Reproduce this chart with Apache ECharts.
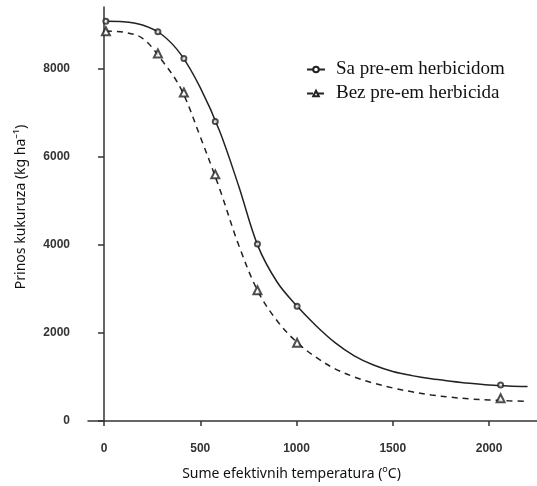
<!DOCTYPE html>
<html>
<head>
<meta charset="utf-8">
<script src="https://cdn.jsdelivr.net/npm/echarts@6/dist/echarts.min.js"></script>
<style>
html,body{margin:0;padding:0;background:#fff;}
#c{width:537px;height:486px;}
</style>
</head>
<body>
<div id="c"></div>
<script>
// Series names
var seriesNames = ['Sa pre-em herbicidom', 'Bez pre-em herbicida'];

// Observed points
var obsX = [10, 280, 415, 578, 797, 1003, 2060];
var obsWith = [9075, 8840, 8230, 6800, 4020, 2605, 820];
var obsWithout = [8850, 8345, 7460, 5600, 2970, 1775, 515];

// Fitted curves, values at these x positions
var curveX = [10, 100, 200, 300, 400, 500, 600, 700, 800, 900, 1000, 1100, 1200, 1300, 1400, 1500, 1600, 1700, 1800, 1900, 2000, 2100, 2200];
var curveWithY = [9075, 9065, 8990, 8775, 8320, 7570, 6590, 5330, 3970, 3150, 2620, 2170, 1780, 1480, 1270, 1125, 1030, 958, 905, 858, 820, 797, 785];
var curveWithoutY = [8853, 8830, 8690, 8195, 7540, 6455, 5280, 3990, 2940, 2270, 1795, 1450, 1185, 1000, 860, 750, 662, 590, 540, 502, 478, 460, 445];

// Tick values
var xTicks = [0, 500, 1000, 1500, 2000];
var yTicks = [0, 2000, 4000, 6000, 8000];

function pairs(xs, ys) { return xs.map(function (x, i) { return [x, ys[i]]; }); }

var ink = '#222';
var axisColor = '#333';
var labelStyle = { color: '#333', fontFamily: 'Liberation Sans, Arial', fontSize: 12, fontWeight: 'bold' };

var chart = echarts.init(document.getElementById('c'), null, { renderer: 'canvas' });
chart.setOption({
  animation: false,
  backgroundColor: '#fff',
  grid: { left: 88, right: 0, top: 7, bottom: 63, containLabel: false },
  legend: {
    data: seriesNames,
    orient: 'vertical',
    left: 301,
    top: 55,
    itemWidth: 18,
    itemHeight: 7,
    itemGap: 5,
    textStyle: { fontFamily: 'Liberation Serif, Times New Roman, serif', fontSize: 19, color: '#111', padding: [0, 0, 0, 6] },
    selectedMode: false
  },
  xAxis: [
    {
      type: 'value', min: -83, max: 2249, position: 'bottom',
      axisLine: { show: true, lineStyle: { color: axisColor, width: 1.5 } },
      axisTick: { show: false }, axisLabel: { show: false }, splitLine: { show: false },
      name: '{a|Sume efektivnih temperatura (}{s|o}{a|C)}',
      nameLocation: 'middle', nameGap: 44,
      nameTextStyle: {
        padding: [0, 42, 0, 0],
        rich: {
          a: { fontFamily: 'Noto Sans', fontSize: 14, color: '#111', lineHeight: 18 },
          s: { fontFamily: 'Noto Sans', fontSize: 9, color: '#111', verticalAlign: 'top', lineHeight: 18 }
        }
      }
    },
    {
      type: 'value', min: -83, max: 2249, position: 'bottom', offset: 4,
      axisLine: { show: false },
      axisTick: { show: true, length: 5, customValues: xTicks, lineStyle: { color: axisColor, width: 1.5 } },
      axisLabel: { show: true, customValues: xTicks, margin: 18, formatter: function (v) { return String(v); } },
      splitLine: { show: false }
    }
  ],
  yAxis: [
    {
      type: 'value', min: 0, max: 9400, position: 'left',
      axisLine: { show: true, lineStyle: { color: axisColor, width: 1.5 } },
      axisTick: { show: false }, axisLabel: { show: false }, splitLine: { show: false },
      name: 'Prinos kukuruza (kg ha\u207B\u00B9)',
      nameLocation: 'middle', nameGap: 60,
      nameTextStyle: { fontFamily: 'Noto Sans', fontSize: 14, color: '#111', padding: [0, 0, 0, 14] }
    },
    {
      type: 'value', min: 0, max: 9400, position: 'left', offset: 2,
      axisLine: { show: false },
      axisTick: { show: true, length: 6, customValues: yTicks, lineStyle: { color: axisColor, width: 1.5 } },
      axisLabel: { show: true, customValues: yTicks, margin: 16, formatter: function (v) { return String(v); } },
      splitLine: { show: false }
    }
  ],
  series: [
    {
      name: seriesNames[0], type: 'line', smooth: 0.35,
      data: pairs(curveX, curveWithY),
      symbol: 'emptyCircle', showSymbol: false,
      lineStyle: { color: ink, width: 1.5 }, itemStyle: { color: ink },
      z: 2
    },
    {
      name: seriesNames[1], type: 'line', smooth: 0.35,
      data: pairs(curveX, curveWithoutY),
      symbol: 'emptyTriangle', showSymbol: false,
      lineStyle: { color: ink, width: 1.5, type: [6, 5] }, itemStyle: { color: ink },
      z: 2
    },
    {
      type: 'scatter', data: pairs(obsX, obsWith),
      symbol: 'emptyCircle', symbolSize: 5,
      itemStyle: { color: ink, borderWidth: 1.2 }, z: 3
    },
    {
      type: 'scatter', data: pairs(obsX, obsWithout),
      symbol: 'emptyTriangle', symbolSize: 8,
      itemStyle: { color: ink, borderWidth: 1.4 }, z: 3
    }
  ]
});
chart.setOption({
  xAxis: [{}, { axisLabel: labelStyle }],
  yAxis: [{}, { axisLabel: labelStyle }]
});
</script>
</body>
</html>
